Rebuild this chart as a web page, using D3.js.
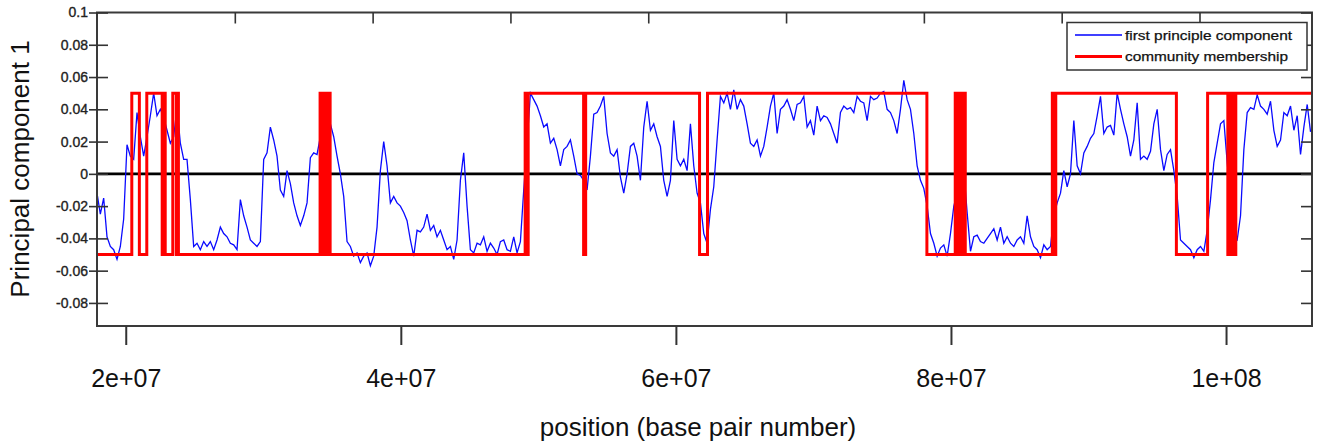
<!DOCTYPE html>
<html>
<head>
<meta charset="utf-8">
<script src="https://cdn.jsdelivr.net/npm/d3@7"></script>
<style>
  body { margin: 0; background: #fff; }
  svg { display: block; font-family: "Liberation Sans", Arial, sans-serif; }
</style>
</head>
<body>
<svg id="chart" width="1320" height="441"></svg>
<script>
// axis ticks
var xTicks = [2e7, 4e7, 6e7, 8e7, 1e8];
var xTickLabels = ["2e+07", "4e+07", "6e+07", "8e+07", "1e+08"];
var yTicks = [0.1, 0.08, 0.06, 0.04, 0.02, 0, -0.02, -0.04, -0.06, -0.08];
var yTickLabels = ["0.1", "0.08", "0.06", "0.04", "0.02", "0", "-0.02", "-0.04", "-0.06", "-0.08"];
// the unlabelled ticks along the top edge (in Mb)
var topTicks = [27.93, 37.95, 47.97, 57.99, 68.01, 78.03, 88.05, 98.07];

// first principal component, sampled every pcStep Mb from pcStart Mb
var pcStart = 17.91;
var pcStep = 0.2424;
var pcValues = [
  -0.012, -0.025, -0.015, -0.039, -0.045, -0.047, -0.053, -0.045, -0.028, 0.018,
  0.011, 0.009, 0.038, 0.023, 0.011, 0.023, 0.036, 0.050, 0.036, 0.040,
  0.035, 0.027, 0.019, 0.023, 0.041, 0.019, 0.009, 0.009, -0.016, -0.045,
  -0.043, -0.047, -0.042, -0.045, -0.042, -0.047, -0.041, -0.033, -0.037, -0.039,
  -0.043, -0.044, -0.047, -0.016, -0.026, -0.033, -0.041, -0.043, -0.045, -0.042,
  0.009, 0.013, 0.029, 0.021, 0.011, -0.010, -0.014, 0.002, -0.006, -0.018,
  -0.026, -0.032, -0.026, -0.018, 0.010, 0.013, 0.012, 0.023, 0.038, 0.045,
  0.031, 0.023, 0.011, 0.000, -0.014, -0.042, -0.045, -0.051, -0.049, -0.055,
  -0.051, -0.049, -0.057, -0.051, -0.033, 0.002, 0.020, 0.005, -0.018, -0.014,
  -0.018, -0.020, -0.024, -0.029, -0.041, -0.051, -0.035, -0.036, -0.033, -0.025,
  -0.035, -0.032, -0.039, -0.035, -0.041, -0.047, -0.045, -0.053, -0.041, -0.004,
  0.013, -0.020, -0.047, -0.049, -0.043, -0.044, -0.039, -0.048, -0.043, -0.046,
  -0.050, -0.042, -0.041, -0.047, -0.048, -0.039, -0.049, -0.042, -0.010, 0.019,
  0.050, 0.046, 0.042, 0.036, 0.029, 0.031, 0.019, 0.022, 0.015, 0.005,
  0.015, 0.017, 0.021, 0.011, 0.000, -0.001, -0.004, -0.010, 0.011, 0.037,
  0.038, 0.042, 0.048, 0.025, 0.013, 0.011, 0.015, -0.002, -0.012, 0.000,
  0.017, 0.019, 0.011, -0.004, 0.029, 0.045, 0.027, 0.031, 0.023, 0.017,
  -0.004, -0.014, -0.004, 0.033, 0.009, 0.005, 0.009, 0.002, 0.031, 0.005,
  -0.012, -0.018, -0.037, -0.043, -0.022, -0.008, 0.021, 0.048, 0.044, 0.050,
  0.040, 0.052, 0.040, 0.046, 0.042, 0.031, 0.019, 0.017, 0.021, 0.011,
  0.017, 0.029, 0.042, 0.050, 0.025, 0.040, 0.042, 0.046, 0.040, 0.033,
  0.043, 0.044, 0.048, 0.029, 0.033, 0.024, 0.042, 0.033, 0.036, 0.035,
  0.031, 0.025, 0.019, 0.038, 0.042, 0.040, 0.041, 0.038, 0.048, 0.045,
  0.044, 0.033, 0.048, 0.046, 0.047, 0.050, 0.051, 0.040, 0.038, 0.033,
  0.025, 0.040, 0.058, 0.046, 0.040, 0.025, 0.005, -0.004, -0.009, -0.020,
  -0.037, -0.043, -0.051, -0.046, -0.044, -0.051, -0.037, -0.020, -0.012, -0.006,
  0.002, -0.024, -0.048, -0.039, -0.038, -0.042, -0.043, -0.040, -0.037, -0.034,
  -0.041, -0.033, -0.043, -0.039, -0.043, -0.045, -0.041, -0.039, -0.043, -0.026,
  -0.039, -0.045, -0.047, -0.052, -0.044, -0.047, -0.045, -0.026, -0.018, -0.012,
  0.002, -0.008, 0.000, 0.033, 0.005, 0.000, 0.013, 0.017, 0.022, 0.025,
  0.036, 0.048, 0.025, 0.029, 0.030, 0.024, 0.050, 0.040, 0.031, 0.023,
  0.011, 0.021, 0.044, 0.009, 0.011, 0.009, 0.014, 0.031, 0.040, 0.015,
  0.002, 0.012, 0.015, 0.002, -0.014, -0.041, -0.043, -0.045, -0.047, -0.052,
  -0.047, -0.045, -0.048, -0.035, -0.016, 0.007, 0.019, 0.031, 0.033, 0.007,
  -0.016, -0.039, -0.041, -0.026, 0.015, 0.038, 0.041, 0.040, 0.049, 0.042,
  0.040, 0.037, 0.045, 0.027, 0.017, 0.021, 0.038, 0.036, 0.042, 0.027,
  0.036, 0.012, 0.029, 0.043, 0.026
];

// community membership step function: switch positions (Mb) and the level from there on
var communityPos = [
  17.91, 20.44, 20.99, 21.53, 22.65, 22.76, 22.87, 23.42, 23.68, 23.76, 23.83,
  34.13, 34.24, 34.35, 34.46, 34.57, 34.68, 34.79, 34.86,
  49.04, 49.15, 49.26, 53.29, 53.44, 61.72, 62.30, 78.25,
  80.31, 80.42, 80.53, 80.64, 80.75, 80.86, 80.93, 81.04,
  87.37, 87.48, 87.62, 96.39, 98.66,
  100.13, 100.24, 100.35, 100.46, 100.57, 100.71, 106.25
];
var communityVal = [
  -0.05, 0.05, -0.05, 0.05, -0.05, 0.05, -0.05, 0.05, -0.05, 0.05, -0.05,
  0.05, -0.05, 0.05, -0.05, 0.05, -0.05, 0.05, -0.05,
  0.05, -0.05, 0.05, -0.05, 0.05, -0.05, 0.05, -0.05,
  0.05, -0.05, 0.05, -0.05, 0.05, -0.05, 0.05, -0.05,
  0.05, -0.05, 0.05, -0.05, 0.05,
  -0.05, 0.05, -0.05, 0.05, -0.05, 0.05, 0.05
];

var legendNames = ["first principle component", "community membership"];
var legendColors = ["#0000ff", "#ff0000"];

var svg = d3.select("#chart");
var plotLeft = 97, plotRight = 1312, plotTop = 12.5, plotBottom = 326;

var x = d3.scaleLinear().domain([17.91e6, 106.25e6]).range([plotLeft, plotRight]);
var y = d3.scaleLinear().domain([-0.0943, 0.1]).range([plotBottom, plotTop]);

svg.append("defs").append("clipPath").attr("id", "plotclip")
   .append("rect").attr("x", plotLeft).attr("y", plotTop)
   .attr("width", plotRight - plotLeft).attr("height", plotBottom - plotTop);

var plot = svg.append("g").attr("clip-path", "url(#plotclip)");

// zero line
plot.append("line")
    .attr("x1", plotLeft).attr("x2", plotRight)
    .attr("y1", y(0)).attr("y2", y(0))
    .attr("stroke", "#000").attr("stroke-width", 2.6);

// blue PC1 line
plot.append("path")
    .datum(pcValues)
    .attr("fill", "none")
    .attr("stroke", "#0a0aff")
    .attr("stroke-width", 1.3)
    .attr("d", d3.line()
                 .x(function(d, i) { return x((pcStart + i * pcStep) * 1e6); })
                 .y(function(d) { return y(d); }));

// red community membership
plot.append("path")
    .datum(communityPos)
    .attr("fill", "none")
    .attr("stroke", "#ff0000")
    .attr("stroke-width", 3)
    .attr("d", d3.line()
                 .curve(d3.curveStepAfter)
                 .x(function(d) { return x(d * 1e6); })
                 .y(function(d, i) { return y(communityVal[i]); }));

// frame
svg.append("rect")
   .attr("x", plotLeft).attr("y", plotTop)
   .attr("width", plotRight - plotLeft).attr("height", plotBottom - plotTop)
   .attr("fill", "none").attr("stroke", "#3a3a3a").attr("stroke-width", 2);

// left axis (ticks cross the frame)
var yAxis = svg.append("g")
   .attr("transform", "translate(" + plotLeft + ",0)")
   .call(d3.axisLeft(y).tickValues(yTicks)
           .tickFormat(function(d, i) { return yTickLabels[i]; })
           .tickSize(8).tickPadding(1));
yAxis.select(".domain").remove();
yAxis.selectAll(".tick line").attr("x1", 11).attr("stroke", "#333").attr("stroke-width", 1.6);
yAxis.selectAll(".tick text")
     .style("font", "14px 'Liberation Sans', Arial, sans-serif")
     .attr("fill", "#222")
     .attr("stroke", "#222").attr("stroke-width", 0.35);

// right axis, ticks only
var yAxisR = svg.append("g")
   .attr("transform", "translate(" + plotRight + ",0)")
   .call(d3.axisRight(y).tickValues(yTicks).tickFormat("").tickSize(-11));
yAxisR.select(".domain").remove();
yAxisR.selectAll(".tick line").attr("stroke", "#333").attr("stroke-width", 1.6);

// top ticks
var xTop = svg.append("g")
   .attr("transform", "translate(0," + plotTop + ")")
   .call(d3.axisTop(x).tickValues(topTicks.map(function(d) { return d * 1e6; }))
           .tickFormat("").tickSize(-11));
xTop.select(".domain").remove();
xTop.selectAll(".tick line").attr("stroke", "#333").attr("stroke-width", 1.6);

// bottom axis
var xAxis = svg.append("g")
   .attr("transform", "translate(0," + plotBottom + ")")
   .call(d3.axisBottom(x).tickValues(xTicks)
           .tickFormat(function(d, i) { return xTickLabels[i]; })
           .tickSize(19).tickPadding(24));
xAxis.select(".domain").remove();
xAxis.selectAll(".tick line").attr("stroke", "#333").attr("stroke-width", 2);
xAxis.selectAll(".tick text")
     .style("font", "25px 'Liberation Sans', Arial, sans-serif")
     .attr("fill", "#111");

// axis titles
svg.append("text")
   .attr("transform", "translate(29,169) rotate(-90)")
   .attr("text-anchor", "middle")
   .style("font-size", "26px")
   .attr("fill", "#111")
   .text("Principal component 1");

svg.append("text")
   .attr("x", 698).attr("y", 436)
   .attr("text-anchor", "middle")
   .style("font-size", "26px")
   .attr("fill", "#111")
   .text("position (base pair number)");

// legend
var legend = svg.append("g");
legend.append("rect")
      .attr("x", 1067).attr("y", 22.5).attr("width", 240).attr("height", 47.5)
      .attr("fill", "#fff").attr("stroke", "#333").attr("stroke-width", 1.5);
legendNames.forEach(function(name, i) {
  var ly = 35 + i * 21.5;
  legend.append("line")
        .attr("x1", 1075).attr("x2", 1122).attr("y1", ly).attr("y2", ly)
        .attr("stroke", legendColors[i]).attr("stroke-width", i === 0 ? 1.4 : 3);
  legend.append("text")
        .attr("x", 1125).attr("y", ly + 4.5)
        .attr("textLength", i === 0 ? 167 : 163)
        .attr("lengthAdjust", "spacingAndGlyphs")
        .style("font", "13px 'Liberation Sans Narrow', 'Liberation Sans', Arial, sans-serif")
        .attr("fill", "#111")
        .attr("stroke", "#111").attr("stroke-width", 0.25)
        .text(name);
});
</script>
</body>
</html>
